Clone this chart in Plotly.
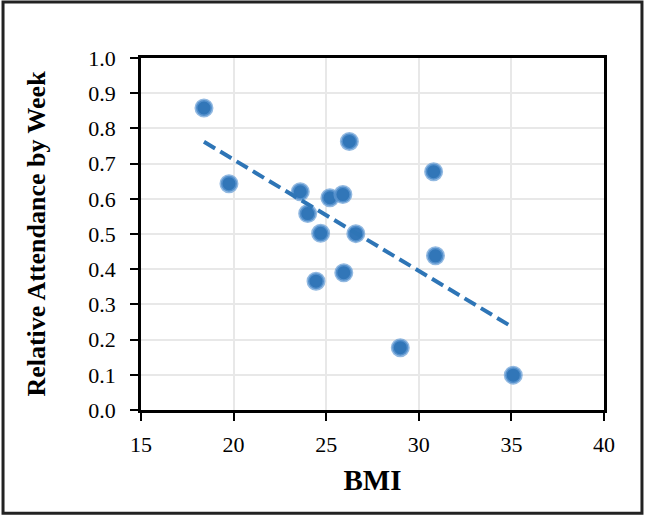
import numpy as np
import plotly.graph_objects as go

# BMI vs relative attendance
bmi = [18.4, 19.75, 23.6, 24.0, 24.45, 24.7, 25.2, 25.9, 25.95, 26.25, 26.6, 29.0, 30.8, 30.9, 35.1]
attendance = [0.858, 0.643, 0.620, 0.558, 0.366, 0.502, 0.603, 0.612, 0.390, 0.763, 0.501, 0.177, 0.677, 0.438, 0.099]

x_ticks = [15, 20, 25, 30, 35, 40]
y_ticks = [0.0, 0.1, 0.2, 0.3, 0.4, 0.5, 0.6, 0.7, 0.8, 0.9, 1.0]

# linear trend line
slope, intercept = np.polyfit(bmi, attendance, 1)
trend_x = [min(bmi), max(bmi)]
trend_y = [slope * v + intercept for v in trend_x]

blue = '#2E75B6'
font_family = 'Liberation Serif'

fig = go.Figure()

fig.add_trace(go.Scatter(
    x=bmi, y=attendance,
    mode='markers',
    marker=dict(size=16, color='#3176B8',
                line=dict(color='rgba(100,155,212,0.7)', width=3)),
    showlegend=False,
))

fig.add_trace(go.Scatter(
    x=trend_x, y=trend_y,
    mode='lines',
    line=dict(color=blue, width=4, dash='13px,6px'),
    showlegend=False,
))

axis_common = dict(
    showgrid=True, gridcolor='#E8E8E8', gridwidth=2,
    showline=True, linecolor='black', linewidth=2.5, mirror=True,
    ticks='outside', ticklen=8, tickwidth=2, tickcolor='black',
    zeroline=False,
    tickfont=dict(family=font_family, size=22, color='black'),
)

fig.update_xaxes(
    range=[15, 40], tickvals=x_ticks, ticktext=[str(v) for v in x_ticks],
    ticklabelstandoff=5,
    title=dict(text='<b>BMI</b>', font=dict(family=font_family, size=29, color='black'), standoff=14),
    **axis_common,
)
fig.update_yaxes(
    range=[0, 1.0], tickvals=y_ticks, ticktext=[f'{v:.1f}' for v in y_ticks],
    ticklabelstandoff=10,
    title=dict(text='<b>Relative Attendance by Week</b>', font=dict(family=font_family, size=26, color='black'), standoff=36),
    **axis_common,
)

# outer frame around the whole picture
fig.add_shape(type='rect', xref='paper', yref='paper',
              x0=-0.298, x1=1.082, y0=-0.293, y1=1.159,
              line=dict(color='#222222', width=3), layer='above')

fig.update_layout(
    width=645, height=516,
    margin=dict(l=141, r=41, t=58, b=106),
    paper_bgcolor='white', plot_bgcolor='white',
    font=dict(family=font_family, color='black'),
)

fig.write_html("out.html", config={'displayModeBar': False},
               post_script="document.body.style.margin='0';")
